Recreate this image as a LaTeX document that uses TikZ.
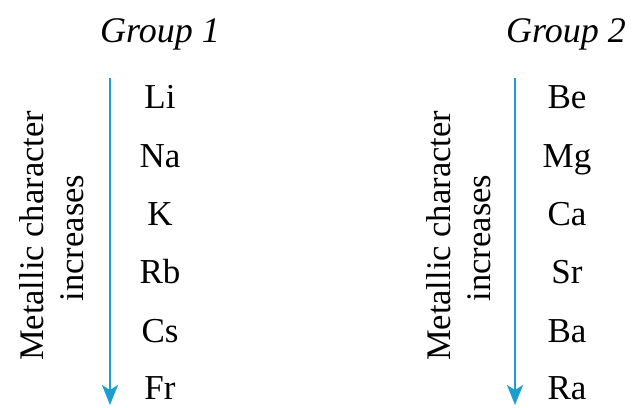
\documentclass[tikz,border=0pt]{standalone}
\usepackage{fontspec}
\setmainfont{Liberation Serif}
\usetikzlibrary{arrows.meta}
\definecolor{arrowblue}{RGB}{28,158,208}
\begin{document}
\begin{tikzpicture}[x=1pt,y=-1pt,
  elem/.style={font=\fontsize{35}{37}\selectfont, inner sep=0pt, anchor=base},
  grp/.style={font=\fontsize{36}{38}\selectfont\itshape, inner sep=0pt, anchor=base},
  side/.style={font=\fontsize{34.5}{36}\selectfont, inner sep=0pt, rotate=90, anchor=base},
  trend/.style={draw=arrowblue, line width=2pt, -{Stealth[length=20pt,width=16pt,inset=5pt]}}]
\useasboundingbox (0,0) rectangle (639,407);
% Group 1
\node[grp] (g1) at (160,42) {Group 1};
\coordinate (a1s) at (110,78);
\coordinate (a1e) at (110,405);
\draw[trend] (a1s) -- (a1e);
\node[elem] (li) at (160,108) {Li};
\node[elem] (na) at (160,167) {Na};
\node[elem] (k)  at (160,225) {K};
\node[elem] (rb) at (160,283) {Rb};
\node[elem] (cs) at (160,342) {Cs};
\node[elem] (fr) at (160,399) {Fr};
\node[side] (m1) at (43,236) {Metallic character};
\node[side] (i1) at (83,238) {increases};
% Group 2
\node[grp] (g2) at (566,42) {Group 2};
\coordinate (a2s) at (515,78);
\coordinate (a2e) at (515,405);
\draw[trend] (a2s) -- (a2e);
\node[elem] (be) at (567,108) {Be};
\node[elem] (mg) at (567,167) {Mg};
\node[elem] (ca) at (567,225) {Ca};
\node[elem] (sr) at (567,283) {Sr};
\node[elem] (ba) at (567,342) {Ba};
\node[elem] (ra) at (567,399) {Ra};
\node[side] (m2) at (450,236) {Metallic character};
\node[side] (i2) at (490,238) {increases};
\end{tikzpicture}
\end{document}
